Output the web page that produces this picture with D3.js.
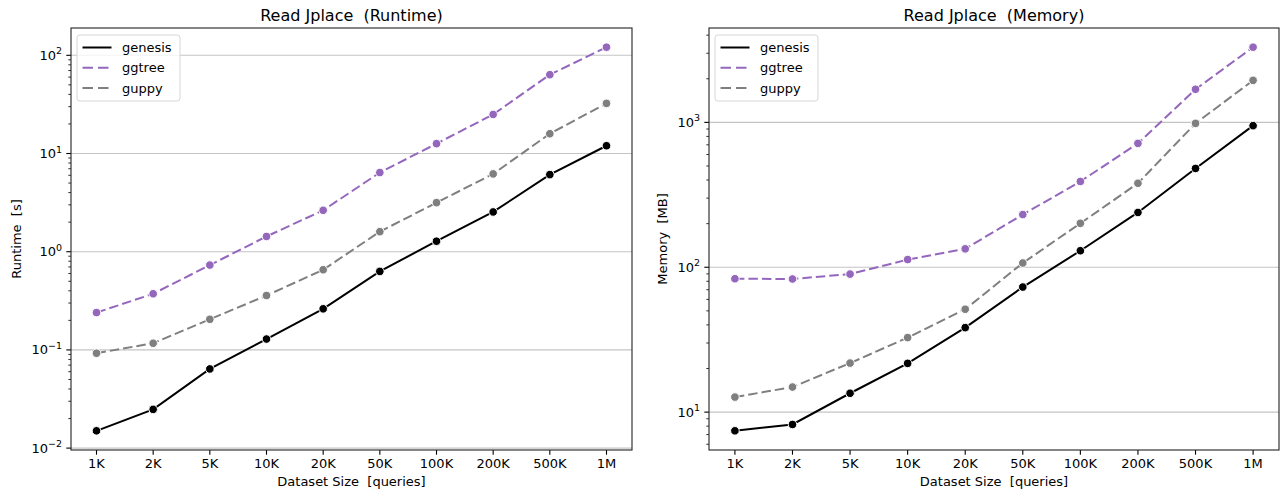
<!DOCTYPE html>
<html>
<head>
<meta charset="utf-8">
<script src="https://cdn.jsdelivr.net/npm/d3@7"></script>
<style>
    body { margin: 0; background: #fff; }
    text { font-family: "DejaVu Sans", sans-serif; fill: #000; white-space: pre; }
</style>
</head>
<body>
<div id="graph"></div>
<script>
const sizes = ["1K", "2K", "5K", "10K", "20K", "50K", "100K", "200K", "500K", "1M"];
const tools = ["genesis", "ggtree", "guppy"];

// runtime in seconds
const runtimeGenesis = [0.0150, 0.0248, 0.064, 0.129, 0.262, 0.63, 1.28, 2.54, 6.1, 12.0];
const runtimeGgtree = [0.240, 0.373, 0.731, 1.43, 2.64, 6.4, 12.6, 25, 63.5, 121];
const runtimeGuppy = [0.0925, 0.117, 0.205, 0.358, 0.655, 1.6, 3.16, 6.2, 15.9, 32.4];

// memory in MB
const memoryGenesis = [7.43, 8.22, 13.5, 21.7, 38.3, 73, 130, 239, 481, 949];
const memoryGgtree = [83.3, 83.0, 89.7, 113, 134, 231, 391, 716, 1692, 3304];
const memoryGuppy = [12.7, 14.9, 21.8, 32.7, 51.3, 107, 201, 380, 984, 1950];

const colors = {genesis: "#000000", ggtree: "#9467bd", guppy: "#7f7f7f"};
const dashes = {genesis: null, ggtree: "9.5,4", guppy: "9.5,4"};

const svg = d3.select("#graph").append("svg")
    .attr("width", 1286)
    .attr("height", 493);

drawPanel({
    left: 71, right: 632, top: 28, bottom: 450,
    title: "Read Jplace  (Runtime)",
    ylabel: "Runtime  [s]", ylabelX: 21,
    series: {genesis: runtimeGenesis, ggtree: runtimeGgtree, guppy: runtimeGuppy}
});

drawPanel({
    left: 709, right: 1279, top: 28, bottom: 450,
    title: "Read Jplace  (Memory)",
    ylabel: "Memory  [MB]", ylabelX: 667,
    series: {genesis: memoryGenesis, ggtree: memoryGgtree, guppy: memoryGuppy}
});

function drawPanel(p) {
    const g = svg.append("g");
    const w = p.right - p.left, h = p.bottom - p.top;

    // log domain with 5% margins like matplotlib
    const all = tools.flatMap(t => p.series[t]);
    let lo = Math.log10(d3.min(all)), hi = Math.log10(d3.max(all));
    const m = (hi - lo) * 0.05;
    const y = d3.scaleLog()
        .domain([Math.pow(10, lo - m), Math.pow(10, hi + m)])
        .range([p.bottom, p.top]);

    const x = d3.scalePoint()
        .domain(sizes)
        .range([p.left, p.right])
        .padding(0.45);

    // grid on decades
    const [d0, d1] = y.domain();
    const majors = [];
    for (let e = Math.ceil(Math.log10(d0)); e <= Math.floor(Math.log10(d1)); e++) majors.push(e);
    const minors = [];
    for (let e = Math.floor(Math.log10(d0)); e <= Math.ceil(Math.log10(d1)); e++) {
        for (let k = 2; k < 10; k++) {
            const v = k * Math.pow(10, e);
            if (v >= d0 && v <= d1) minors.push(v);
        }
    }

    g.selectAll("line.grid")
        .data(majors)
        .enter().append("line")
        .attr("class", "grid")
        .attr("x1", p.left).attr("x2", p.right)
        .attr("y1", d => y(Math.pow(10, d))).attr("y2", d => y(Math.pow(10, d)))
        .style("stroke", "#c4c4c4")
        .style("stroke-width", 1.1);

    // y ticks
    g.selectAll("line.ymaj")
        .data(majors)
        .enter().append("line")
        .attr("x1", p.left - 4.7).attr("x2", p.left)
        .attr("y1", d => y(Math.pow(10, d))).attr("y2", d => y(Math.pow(10, d)))
        .style("stroke", "#000").style("stroke-width", 1.1);

    g.selectAll("line.ymin")
        .data(minors)
        .enter().append("line")
        .attr("x1", p.left - 2.7).attr("x2", p.left)
        .attr("y1", d => y(d)).attr("y2", d => y(d))
        .style("stroke", "#000").style("stroke-width", 0.8);

    const yl = g.selectAll("text.ytick")
        .data(majors)
        .enter().append("text")
        .attr("x", p.left - 9)
        .attr("y", d => y(Math.pow(10, d)) + 4.5)
        .attr("text-anchor", "end")
        .style("font-size", "13px");
    yl.append("tspan").text("10");
    yl.append("tspan")
        .attr("dy", "-5.5")
        .style("font-size", "9.5px")
        .text(d => d < 0 ? "\u2212" + (-d) : d);

    // x ticks
    g.selectAll("line.xtick")
        .data(sizes)
        .enter().append("line")
        .attr("x1", d => x(d)).attr("x2", d => x(d))
        .attr("y1", p.bottom).attr("y2", p.bottom + 4.7)
        .style("stroke", "#000").style("stroke-width", 1.1);

    g.selectAll("text.xtick")
        .data(sizes)
        .enter().append("text")
        .attr("x", d => x(d))
        .attr("y", p.bottom + 18)
        .attr("text-anchor", "middle")
        .style("font-size", "13px")
        .text(d => d);

    // lines and markers
    const line = d3.line()
        .x((d, i) => x(sizes[i]))
        .y(d => y(d));

    tools.forEach(t => {
        g.append("path")
            .datum(p.series[t])
            .attr("d", line)
            .style("fill", "none")
            .style("stroke", colors[t])
            .style("stroke-width", 2)
            .style("stroke-dasharray", dashes[t]);
    });
    tools.forEach(t => {
        g.selectAll("circle." + t)
            .data(p.series[t])
            .enter().append("circle")
            .attr("cx", (d, i) => x(sizes[i]))
            .attr("cy", d => y(d))
            .attr("r", 4.3)
            .style("fill", colors[t])
            .style("stroke", "#fff")
            .style("stroke-width", 1);
    });

    // frame
    g.append("rect")
        .attr("x", p.left).attr("y", p.top)
        .attr("width", w).attr("height", h)
        .style("fill", "none")
        .style("stroke", "#222")
        .style("stroke-width", 1.1);

    // title and labels
    g.append("text")
        .attr("x", p.left + w / 2)
        .attr("y", 21)
        .attr("text-anchor", "middle")
        .style("font-size", "16px")
        .text(p.title);

    g.append("text")
        .attr("x", p.left + w / 2)
        .attr("y", 486)
        .attr("text-anchor", "middle")
        .style("font-size", "13px")
        .text("Dataset Size  [queries]");

    g.append("text")
        .attr("transform", "translate(" + p.ylabelX + "," + (p.top + h / 2) + ") rotate(-90)")
        .attr("text-anchor", "middle")
        .style("font-size", "13px")
        .text(p.ylabel);

    // legend
    const lg = g.append("g").attr("transform", "translate(" + (p.left + 6) + "," + (p.top + 7) + ")");
    lg.append("rect")
        .attr("width", 103).attr("height", 66)
        .attr("rx", 3)
        .style("fill", "#fff").style("fill-opacity", 0.8)
        .style("stroke", "#d6d6d6").style("stroke-width", 1);
    tools.forEach((t, i) => {
        const ry = 12.5 + i * 20.3;
        lg.append("line")
            .attr("x1", 5.5).attr("x2", 34.5)
            .attr("y1", ry).attr("y2", ry)
            .style("stroke", colors[t])
            .style("stroke-width", 2)
            .style("stroke-dasharray", t === "genesis" ? null : "10.5,5");
        lg.append("text")
            .attr("x", 45)
            .attr("y", ry + 4.5)
            .style("font-size", "13px")
            .text(t);
    });
}
</script>
</body>
</html>
